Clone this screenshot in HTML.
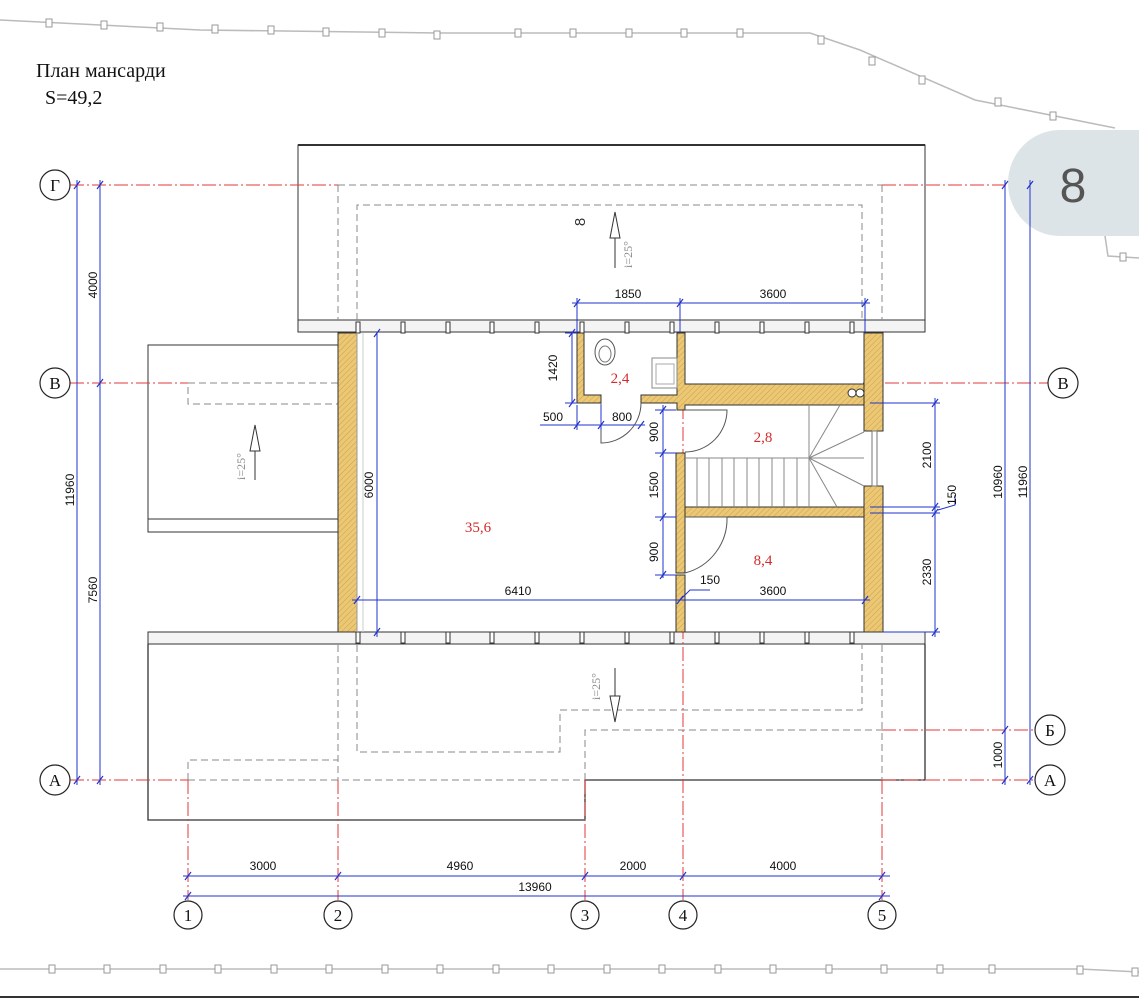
<!DOCTYPE html>
<html><head><meta charset="utf-8"><style>
html,body{margin:0;padding:0;background:#fff;}
svg{display:block;}
.t{font-family:"Liberation Sans",sans-serif;font-size:12px;fill:#111;}
.s{font-family:"Liberation Serif",serif;}
.r{font-family:"Liberation Serif",serif;font-size:15px;fill:#d42a2a;}
</style></head><body>
<svg width="1139" height="1000" viewBox="0 0 1139 1000" xmlns="http://www.w3.org/2000/svg">
<defs>
<pattern id="h" patternUnits="userSpaceOnUse" width="4" height="4" patternTransform="rotate(45)">
<rect width="4" height="4" fill="#ecc874"/><line x1="0" y1="0" x2="0" y2="4" stroke="#c9a14e" stroke-width="1"/>
</pattern>
</defs>
<!-- fences -->
<polyline points="0,20 200,30 440,33 810,33 860,50 975,100 1115,128" fill="none" stroke="#bbb" stroke-width="1.5"/>
<g fill="#fff" stroke="#999" stroke-width="1">
<rect x="46" y="19" width="6" height="8"/><rect x="101" y="21" width="6" height="8"/><rect x="157" y="23" width="6" height="8"/><rect x="212" y="25" width="6" height="8"/><rect x="268" y="26" width="6" height="8"/><rect x="323" y="28" width="6" height="8"/><rect x="379" y="29" width="6" height="8"/><rect x="434" y="31" width="6" height="8"/><rect x="515" y="29" width="6" height="8"/><rect x="570" y="29" width="6" height="8"/><rect x="626" y="29" width="6" height="8"/><rect x="681" y="29" width="6" height="8"/><rect x="737" y="29" width="6" height="8"/><rect x="818" y="36" width="6" height="8"/><rect x="869" y="57" width="6" height="8"/><rect x="919" y="76" width="6" height="8"/><rect x="995" y="98" width="6" height="8"/><rect x="1050" y="112" width="6" height="8"/>
</g>
<polyline points="1105,236 1108,256 1139,258" fill="none" stroke="#bbb" stroke-width="1.5"/>
<rect x="1120" y="253" width="6" height="8" fill="#fff" stroke="#999"/>
<line x1="0" y1="969" x2="1080" y2="969" stroke="#bbb" stroke-width="1.5"/>
<polyline points="1080,969 1139,972" fill="none" stroke="#bbb" stroke-width="1.5"/>
<g fill="#fff" stroke="#999">
<rect x="49" y="965" width="6" height="8"/><rect x="104" y="965" width="6" height="8"/><rect x="160" y="965" width="6" height="8"/><rect x="215" y="965" width="6" height="8"/><rect x="271" y="965" width="6" height="8"/><rect x="326" y="965" width="6" height="8"/><rect x="382" y="965" width="6" height="8"/><rect x="437" y="965" width="6" height="8"/><rect x="493" y="965" width="6" height="8"/><rect x="548" y="965" width="6" height="8"/><rect x="604" y="965" width="6" height="8"/><rect x="659" y="965" width="6" height="8"/><rect x="715" y="965" width="6" height="8"/><rect x="770" y="965" width="6" height="8"/><rect x="826" y="965" width="6" height="8"/><rect x="881" y="965" width="6" height="8"/><rect x="937" y="965" width="6" height="8"/><rect x="989" y="965" width="6" height="8"/><rect x="1077" y="966" width="6" height="8"/><rect x="1132" y="968" width="6" height="8"/>
</g>
<line x1="0" y1="997" x2="1139" y2="997" stroke="#333" stroke-width="2"/>
<!-- badge -->
<path d="M1060,130 H1139 V236 H1060 A52,53 0 0 1 1060,130 Z" fill="#dde4e7"/>
<text x="1073" y="202" font-family="Liberation Sans,sans-serif" font-size="48" fill="#555" text-anchor="middle">8</text>
<!-- title -->
<text x="36" y="77" class="s" font-size="20" fill="#111">План мансарди</text>
<text x="45" y="104" class="s" font-size="20" fill="#111">S=49,2</text>
<!-- top roof -->
<rect x="298" y="145" width="627" height="187" fill="none" stroke="#333" stroke-width="1"/>
<line x1="298" y1="145" x2="925" y2="145" stroke="#333" stroke-width="2"/>
<rect x="298" y="320" width="627" height="12" fill="#f4f4f4" stroke="#333"/>
<!-- left porch -->
<rect x="148" y="345" width="190" height="187" fill="none" stroke="#333"/>
<line x1="148" y1="519" x2="338" y2="519" stroke="#333"/>
<!-- bottom roof -->
<rect x="148" y="632" width="777" height="12" fill="#f4f4f4" stroke="#333"/>
<polyline points="148,644 148,820 585,820 585,780 925,780 925,644" fill="none" stroke="#333" stroke-width="1.3"/>
<!-- studs -->
<g fill="#fff" stroke="#333">
<rect x="356" y="322" width="4" height="11"/><rect x="401" y="322" width="4" height="11"/><rect x="446" y="322" width="4" height="11"/><rect x="490" y="322" width="4" height="11"/><rect x="535" y="322" width="4" height="11"/><rect x="580" y="322" width="4" height="11"/><rect x="625" y="322" width="4" height="11"/><rect x="670" y="322" width="4" height="11"/><rect x="715" y="322" width="4" height="11"/><rect x="760" y="322" width="4" height="11"/><rect x="805" y="322" width="4" height="11"/><rect x="850" y="322" width="4" height="11"/>
<rect x="356" y="632" width="4" height="11"/><rect x="401" y="632" width="4" height="11"/><rect x="446" y="632" width="4" height="11"/><rect x="490" y="632" width="4" height="11"/><rect x="535" y="632" width="4" height="11"/><rect x="580" y="632" width="4" height="11"/><rect x="625" y="632" width="4" height="11"/><rect x="670" y="632" width="4" height="11"/><rect x="715" y="632" width="4" height="11"/><rect x="760" y="632" width="4" height="11"/><rect x="805" y="632" width="4" height="11"/><rect x="850" y="632" width="4" height="11"/>
</g>
<!-- dashed -->
<g fill="none" stroke="#888" stroke-dasharray="7,4" stroke-width="1">
<line x1="338" y1="185" x2="882" y2="185"/>
<line x1="338" y1="185" x2="338" y2="320"/><line x1="882" y1="185" x2="882" y2="320"/>
<polyline points="357,320 357,205 862,205 862,320"/>
<polyline points="338,383 188,383 188,404 338,404"/>
<polyline points="357,645 357,752 560,752 560,710 862,710 862,645"/>
<polyline points="338,645 338,780"/><polyline points="882,645 882,780"/>
<polyline points="585,780 585,730 882,730"/>
<polyline points="188,780 188,760 338,760 338,780"/>
<line x1="188" y1="780" x2="585" y2="780"/>
</g>
<!-- axes red -->
<g stroke="#e03a3a" stroke-dasharray="14,3,2,3" stroke-width="1" fill="none">
<line x1="70" y1="185" x2="338" y2="185"/><line x1="882" y1="185" x2="1008" y2="185"/>
<line x1="70" y1="383" x2="188" y2="383"/><line x1="863" y1="383" x2="1048" y2="383"/>
<line x1="70" y1="780" x2="188" y2="780"/><line x1="882" y1="780" x2="1035" y2="780"/>
<line x1="882" y1="730" x2="1035" y2="730"/>
<line x1="188" y1="780" x2="188" y2="900"/><line x1="338" y1="780" x2="338" y2="900"/>
<line x1="585" y1="780" x2="585" y2="900"/><line x1="882" y1="780" x2="882" y2="900"/>
<line x1="683" y1="405" x2="683" y2="900"/>
</g>
<!-- axis circles -->
<g fill="#fff" stroke="#222" stroke-width="1.2">
<circle cx="55" cy="185" r="15"/><circle cx="55" cy="383" r="15"/><circle cx="55" cy="780" r="15"/>
<circle cx="1063" cy="383" r="15"/><circle cx="1050" cy="730" r="15"/><circle cx="1050" cy="780" r="15"/>
<circle cx="188" cy="915" r="14"/><circle cx="338" cy="915" r="14"/><circle cx="585" cy="915" r="14"/><circle cx="683" cy="915" r="14"/><circle cx="882" cy="915" r="14"/>
</g>
<g class="s" font-size="17" fill="#111" text-anchor="middle">
<text x="55" y="191">Г</text><text x="55" y="389">В</text><text x="55" y="786">А</text>
<text x="1063" y="389">В</text><text x="1050" y="736">Б</text><text x="1050" y="786">А</text>
<text x="188" y="921">1</text><text x="338" y="921">2</text><text x="585" y="921">3</text><text x="683" y="921">4</text><text x="882" y="921">5</text>
</g>
<!-- walls -->
<g fill="url(#h)" stroke="#333" stroke-width="1">
<rect x="338" y="333" width="19" height="299"/>
<rect x="864" y="333" width="19" height="98"/>
<rect x="864" y="486" width="19" height="146"/>
<path d="M577,333 H584 V395 H601 V403 H577 Z"/>
<path d="M677,333 H685 V384 H864 V405 H685 V410 H677 V403 H641 V395 H677 Z"/>
<rect x="676" y="453" width="9" height="120"/>
<rect x="685" y="507" width="179" height="10"/>
<rect x="676" y="575" width="9" height="57"/>
</g>
<line x1="357" y1="333" x2="357" y2="632" stroke="#999"/>
<line x1="363" y1="333" x2="363" y2="632" stroke="#ccc"/>
<rect x="872" y="431" width="5" height="55" fill="#fff" stroke="#777"/>
<!-- bathroom fixtures -->
<ellipse cx="605" cy="352" rx="10" ry="13" fill="#fff" stroke="#555"/>
<ellipse cx="605" cy="354" rx="6" ry="8" fill="none" stroke="#777"/>
<rect x="652" y="358" width="25" height="30" fill="#fff" stroke="#888"/>
<rect x="656" y="364" width="18" height="20" fill="none" stroke="#aaa"/>
<circle cx="852" cy="393" r="4" fill="#fff" stroke="#333"/><circle cx="860" cy="393" r="4" fill="#fff" stroke="#333"/>
<!-- doors -->
<g fill="none" stroke="#555" stroke-width="1">
<path d="M601,403 V443 A40,40 0 0 0 641,403"/>
<path d="M685,410 H727 A42,42 0 0 1 685,452"/>
<path d="M685,517 H727 A56,56 0 0 1 685,573"/>
</g>
<!-- stairs -->
<g stroke="#888" stroke-width="1" fill="none">
<line x1="685" y1="458" x2="864" y2="458"/>
<line x1="697" y1="458" x2="697" y2="507"/><line x1="709" y1="458" x2="709" y2="507"/><line x1="722" y1="458" x2="722" y2="507"/><line x1="734" y1="458" x2="734" y2="507"/><line x1="747" y1="458" x2="747" y2="507"/><line x1="759" y1="458" x2="759" y2="507"/><line x1="772" y1="458" x2="772" y2="507"/><line x1="784" y1="458" x2="784" y2="507"/><line x1="797" y1="458" x2="797" y2="507"/>
<line x1="809" y1="405" x2="809" y2="507"/>
<line x1="809" y1="458" x2="840" y2="405"/><line x1="809" y1="458" x2="864" y2="432"/><line x1="809" y1="458" x2="864" y2="486"/><line x1="809" y1="458" x2="837" y2="507"/>
</g>
<!-- slope arrows -->
<g fill="#fff" stroke="#333">
<path d="M615,212 L610,238 H620 Z"/><line x1="615" y1="238" x2="615" y2="268"/>
<path d="M255,425 L250,451 H260 Z"/><line x1="255" y1="451" x2="255" y2="480"/>
<path d="M615,722 L610,696 H620 Z"/><line x1="615" y1="696" x2="615" y2="668"/>
</g>
<g font-family="Liberation Serif,serif" font-size="12" fill="#888">
<text transform="translate(632,268) rotate(-90)">i=25°</text>
<text transform="translate(245,480) rotate(-90)">i=25°</text>
<text transform="translate(600,700) rotate(-90)">i=25°</text>
</g>
<text transform="translate(585,222) rotate(-90)" font-family="Liberation Sans,sans-serif" font-size="15" fill="#333" text-anchor="middle">8</text>
<!-- room labels -->
<text x="620" y="383" class="r" text-anchor="middle">2,4</text>
<text x="763" y="442" class="r" text-anchor="middle">2,8</text>
<text x="478" y="532" class="r" text-anchor="middle">35,6</text>
<text x="763" y="565" class="r" text-anchor="middle">8,4</text>
<!-- dimension lines -->
<g stroke="#2233cc" stroke-width="1" fill="none">
<line x1="77" y1="180" x2="77" y2="785"/><line x1="100" y1="180" x2="100" y2="785"/>
<line x1="1005" y1="180" x2="1005" y2="785"/><line x1="1030" y1="180" x2="1030" y2="785"/>
<line x1="183" y1="876" x2="890" y2="876"/><line x1="183" y1="896" x2="890" y2="896"/>
<line x1="572" y1="303" x2="870" y2="303"/>
<line x1="577" y1="298" x2="577" y2="333"/><line x1="680" y1="298" x2="680" y2="333"/><line x1="865" y1="298" x2="865" y2="333"/>
<line x1="572" y1="333" x2="572" y2="403"/><line x1="565" y1="333" x2="577" y2="333"/><line x1="565" y1="403" x2="577" y2="403"/>
<line x1="540" y1="425" x2="645" y2="425"/><line x1="577" y1="405" x2="577" y2="430"/><line x1="601" y1="405" x2="601" y2="430"/>
<line x1="663" y1="405" x2="663" y2="578"/><line x1="655" y1="410" x2="676" y2="410"/><line x1="655" y1="453" x2="676" y2="453"/><line x1="655" y1="575" x2="676" y2="575"/><line x1="655" y1="517" x2="676" y2="517"/>
<line x1="377" y1="333" x2="377" y2="637"/>
<line x1="352" y1="600" x2="870" y2="600"/>
<line x1="935" y1="398" x2="935" y2="637"/><line x1="870" y1="403" x2="940" y2="403"/><line x1="870" y1="507" x2="940" y2="507"/><line x1="870" y1="513" x2="940" y2="513"/><line x1="883" y1="632" x2="940" y2="632"/>
<polyline points="938,510 955,505 955,495"/>
<polyline points="680,600 690,590 710,590"/>
</g>
<g stroke="#2233cc" stroke-width="1.2">
<line x1="74" y1="189" x2="80" y2="181"/><line x1="97" y1="189" x2="103" y2="181"/><line x1="97" y1="387" x2="103" y2="379"/><line x1="74" y1="784" x2="80" y2="776"/><line x1="97" y1="784" x2="103" y2="776"/>
<line x1="1002" y1="189" x2="1008" y2="181"/><line x1="1027" y1="189" x2="1033" y2="181"/><line x1="1002" y1="734" x2="1008" y2="726"/><line x1="1002" y1="784" x2="1008" y2="776"/><line x1="1027" y1="784" x2="1033" y2="776"/>
<line x1="185" y1="880" x2="191" y2="872"/><line x1="335" y1="880" x2="341" y2="872"/><line x1="582" y1="880" x2="588" y2="872"/><line x1="680" y1="880" x2="686" y2="872"/><line x1="879" y1="880" x2="885" y2="872"/>
<line x1="185" y1="900" x2="191" y2="892"/><line x1="879" y1="900" x2="885" y2="892"/>
<line x1="574" y1="307" x2="580" y2="299"/><line x1="677" y1="307" x2="683" y2="299"/><line x1="862" y1="307" x2="868" y2="299"/>
<line x1="374" y1="337" x2="380" y2="329"/><line x1="374" y1="636" x2="380" y2="628"/>
<line x1="354" y1="604" x2="360" y2="596"/><line x1="677" y1="604" x2="683" y2="596"/><line x1="862" y1="604" x2="868" y2="596"/>
<line x1="932" y1="407" x2="938" y2="399"/><line x1="932" y1="511" x2="938" y2="503"/><line x1="932" y1="517" x2="938" y2="509"/><line x1="932" y1="636" x2="938" y2="628"/>
<line x1="569" y1="337" x2="575" y2="329"/><line x1="569" y1="407" x2="575" y2="399"/>
<line x1="574" y1="429" x2="580" y2="421"/><line x1="598" y1="429" x2="604" y2="421"/><line x1="638" y1="429" x2="644" y2="421"/>
<line x1="660" y1="414" x2="666" y2="406"/><line x1="660" y1="457" x2="666" y2="449"/><line x1="660" y1="521" x2="666" y2="513"/><line x1="660" y1="579" x2="666" y2="571"/>
</g>
<!-- dim text -->
<g class="t">
<text x="263" y="870" text-anchor="middle">3000</text><text x="460" y="870" text-anchor="middle">4960</text><text x="633" y="870" text-anchor="middle">2000</text><text x="783" y="870" text-anchor="middle">4000</text>
<text x="535" y="891" text-anchor="middle">13960</text>
<text x="628" y="298" text-anchor="middle">1850</text><text x="773" y="298" text-anchor="middle">3600</text>
<text x="553" y="421" text-anchor="middle">500</text><text x="622" y="421" text-anchor="middle">800</text>
<text x="518" y="595" text-anchor="middle">6410</text><text x="773" y="595" text-anchor="middle">3600</text>
<text x="710" y="584" text-anchor="middle">150</text>
<text transform="translate(557,368) rotate(-90)" text-anchor="middle">1420</text>
<text transform="translate(658,432) rotate(-90)" text-anchor="middle">900</text>
<text transform="translate(658,485) rotate(-90)" text-anchor="middle">1500</text>
<text transform="translate(658,552) rotate(-90)" text-anchor="middle">900</text>
<text transform="translate(373,485) rotate(-90)" text-anchor="middle">6000</text>
<text transform="translate(931,455) rotate(-90)" text-anchor="middle">2100</text>
<text transform="translate(931,572) rotate(-90)" text-anchor="middle">2330</text>
<text transform="translate(956,505) rotate(-90)">150</text>
<text transform="translate(97,285) rotate(-90)" text-anchor="middle">4000</text>
<text transform="translate(74,490) rotate(-90)" text-anchor="middle">11960</text>
<text transform="translate(97,590) rotate(-90)" text-anchor="middle">7560</text>
<text transform="translate(1002,482) rotate(-90)" text-anchor="middle">10960</text>
<text transform="translate(1027,482) rotate(-90)" text-anchor="middle">11960</text>
<text transform="translate(1002,755) rotate(-90)" text-anchor="middle">1000</text>
</g>
</svg>
</body></html>
